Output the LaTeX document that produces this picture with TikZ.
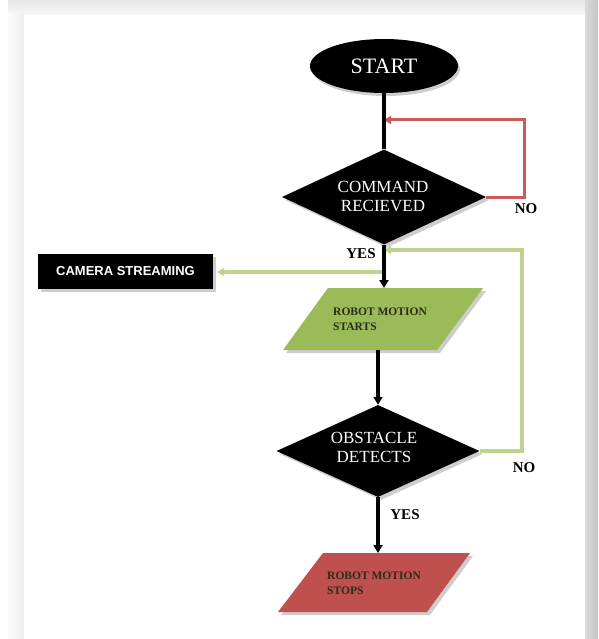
\documentclass[tikz,border=0pt]{standalone}
\usepackage{fontspec}
\setmainfont{Liberation Serif}
\newfontfamily\camsans{Liberation Sans}
\usetikzlibrary{shapes.geometric,arrows.meta,calc}
\definecolor{ofgreen}{RGB}{155,187,89}
\definecolor{ofred}{RGB}{192,80,77}
\definecolor{lgreen}{RGB}{190,212,140}
\definecolor{lred}{RGB}{205,90,90}
\definecolor{txtdark}{RGB}{40,45,20}
\definecolor{shadowgray}{RGB}{205,205,205}
\begin{document}
\begin{tikzpicture}[x=1pt,y=-1pt,
  blackline/.style={line width=3.4pt, draw=black},
  blackarrow/.style={blackline, -{Triangle[length=8pt,width=9pt]}},
  greenarrow/.style={line width=3.2pt, draw=lgreen, -{Triangle[length=7pt,width=8pt]}},
  redarrow/.style={line width=3pt, draw=lred, -{Triangle[length=7pt,width=8pt]}},
  bigtext/.style={text=white, align=center, inner sep=0pt, font=\fontsize{17}{19}\selectfont},
  smalltext/.style={text=txtdark, align=left, inner sep=0pt, anchor=west, font=\bfseries\fontsize{11.5}{15.5}\selectfont},
  answer/.style={text=black, inner sep=0pt, font=\bfseries\fontsize{15}{16}\selectfont},
  dshape/.style={diamond, fill=black, inner sep=0pt, minimum width=204pt, minimum height=95pt}
]
\useasboundingbox (0,0) rectangle (598,639);
% page background
\fill[white] (0,0) rectangle (598,639);
\shade[top color=gray!20, bottom color=gray!6] (8,0) rectangle (598,15);
\shade[left color=gray!3, right color=gray!14] (8,15) rectangle (24,639);
\shade[left color=gray!30, right color=gray!45] (585,0) rectangle (598,639);
\fill[white] (24,15) rectangle (585,639);

% START
\fill[shadowgray] (386,69) ellipse [x radius=74, y radius=27];
\node[ellipse, fill=black, minimum width=148pt, minimum height=54pt, inner sep=0pt,
      text=white, font=\fontsize{22}{24}\selectfont] (start) at (384,66) {START};

% COMMAND RECIEVED
\node[dshape, fill=shadowgray] (cmdshadow) at (387,200) {};
\node[dshape] (cmd) at (384,197) {};
\node[bigtext] (cmdtxt) at (383,196) {COMMAND\\RECIEVED};

% camera streaming
\fill[shadowgray] (41,257) rectangle (216,292);
\node[fill=black, minimum width=175pt, minimum height=35pt, inner sep=0pt,
      text=white, font=\camsans\bfseries\fontsize{13}{14}\selectfont] (cam) at (125.5,271.5) {CAMERA STREAMING};

% robot motion starts (parallelogram)
\fill[shadowgray] (331,291) -- (486,291) -- (440,353) -- (286,353) -- cycle;
\fill[ofgreen] (328,288) -- (483,288) -- (437,350) -- (283,350) -- cycle;
\node[smalltext] (starttxt) at (333,319) {ROBOT MOTION\\STARTS};
\coordinate (gtop) at (384,288);
\coordinate (gbot) at (378,350);

% OBSTACLE DETECTS
\node[dshape, fill=shadowgray, minimum width=203pt, minimum height=92pt] (obsshadow) at (381,454) {};
\node[dshape, minimum width=203pt, minimum height=92pt] (obs) at (378,451) {};
\node[bigtext] (obstxt) at (374,447) {OBSTACLE\\DETECTS};

% robot motion stops (parallelogram)
\fill[shadowgray] (326,556) -- (473,556) -- (430,615) -- (281,615) -- cycle;
\fill[ofred] (323,553) -- (470,553) -- (427,612) -- (278,612) -- cycle;
\node[smalltext] (stoptxt) at (327,583) {ROBOT MOTION\\STOPS};
\coordinate (rtop) at (378,553);

% loop coordinates
\coordinate (redcorner1) at (524,197);
\coordinate (redcorner2) at (524,120);
\coordinate (redjoin) at (384,120);
\coordinate (grncorner1) at (522,451);
\coordinate (grncorner2) at (522,250);
\coordinate (grnjoin) at (384,250);
\coordinate (camsplit) at (384,272);

% connectors
\draw[redarrow] (cmd.east) -- (redcorner1) -- (redcorner2) -- (redjoin);
\draw[greenarrow] (obs.east) -- (grncorner1) -- (grncorner2) -- (grnjoin);
\draw[greenarrow, shorten >=4pt] (camsplit) -- (camsplit -| cam.east);
\draw[blackline] (start.south) -- (cmd.north);
\draw[blackarrow] (cmd.south) -- (gtop);
\draw[blackarrow] (gbot) -- (obs.north);
\draw[blackarrow] (obs.south) -- (rtop);

% labels
\node[answer] (no1) at (526,209) {NO};
\node[answer] (yes1) at (361,254) {YES};
\node[answer] (no2) at (524,468) {NO};
\node[answer] (yes2) at (405,515) {YES};
\end{tikzpicture}
\end{document}
